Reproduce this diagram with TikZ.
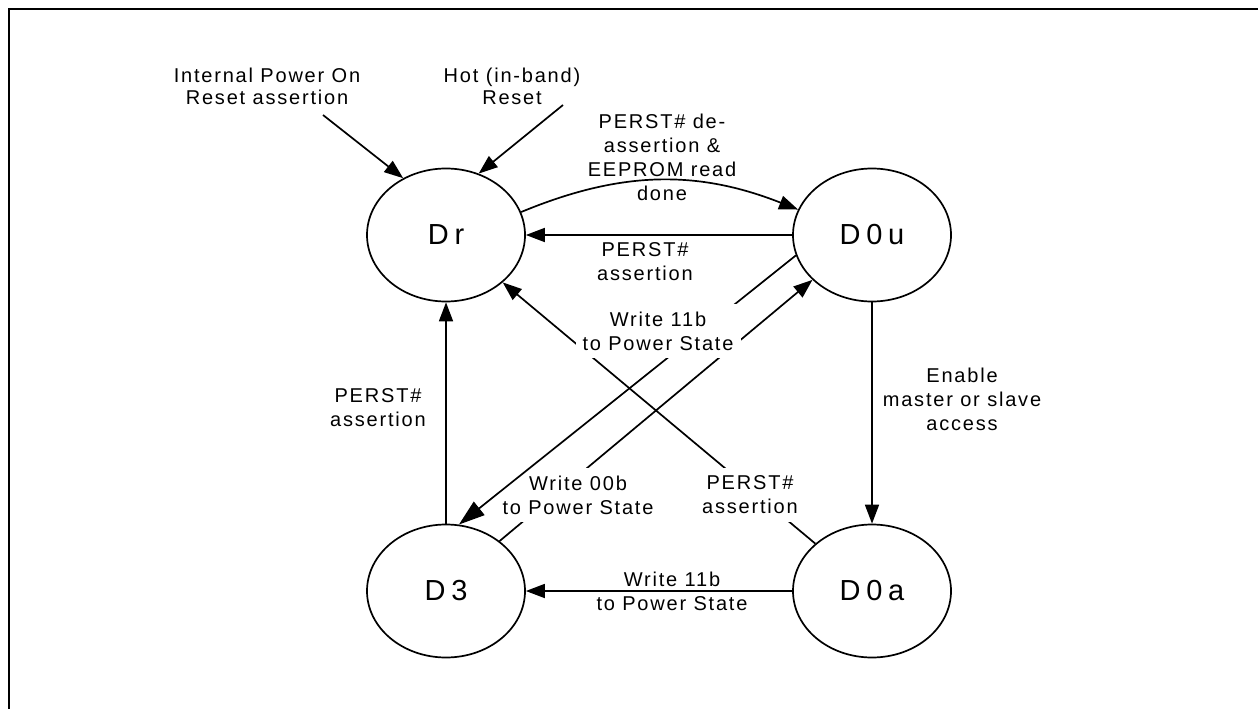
\documentclass[tikz,border=0pt]{standalone}
\usepackage{fontspec}
\setmainfont{Liberation Sans}[LetterSpace=9]
\newfontfamily\statefont{Liberation Sans}[LetterSpace=20]
\usetikzlibrary{shapes.geometric,arrows.meta,positioning}

\begin{document}
\begin{tikzpicture}[x=1pt,y=-1pt]
\tikzset{pmstate/.style={ellipse,draw,line width=1.7pt,minimum width=158pt,minimum height=133pt,inner sep=0pt,font=\statefont\fontsize{29}{34}\selectfont}}
\tikzset{lbl/.style={align=center,inner sep=2pt,font=\fontsize{20}{24}\selectfont}}
\tikzset{lblbox/.style={lbl,fill=white,inner xsep=7pt,inner ysep=8pt}}
\tikzset{conn/.style={line width=1.7pt,-{Triangle[length=19pt,width=14pt]}}}
\useasboundingbox (0,0) rectangle (1258,709);
\draw[line width=2.6pt] (9,730) -- (9,9) -- (1280,9);

\node[pmstate] (dr) at (446,235) {Dr};
\node[pmstate] (d0u) at (872,235) {D0u};
\node[pmstate] (d3) at (446,591) {D3};
\node[pmstate] (d0a) at (872,591) {D0a};

\coordinate (iporstart) at (323,115);
\coordinate (hotstart) at (563,105);
\draw[conn] (iporstart) -- (dr.127.7);
\draw[conn] (hotstart) -- (dr.62.7);

\draw[conn] (dr.17) to[bend left=22] (d0u.161);
\draw[conn] (d0u.west) -- (dr.east);
\draw[conn] (d3.north) -- (dr.south);
\draw[conn] (d0u.south) -- (d0a.north);
\draw[conn] (d0a.west) -- (d3.east);
\draw[conn] (d3.43) -- (d0u.217);
\draw[conn] (d0a) -- (dr);

\node[lblbox] (wr00) at (578,495) {Write 00b\\to Power State};
\node[lblbox] (perstlow) at (750,495) {PERST\#\\assertion};

\draw[conn,-{Triangle[length=26pt,width=17pt]}] (d0u.195) -- (d3.79);

\node[lblbox] (wr11mid) at (658,331) {Write 11b\\to Power State};

\node[lbl,font=\fontsize{20}{22}\selectfont] (ipor) at (267,86) {Internal Power On\\Reset assertion};
\node[lbl,font=\fontsize{20}{22}\selectfont] (hotrst) at (512,86) {Hot (in-band)\\Reset};
\node[lbl] (eeprom) at (662,157) {PERST\# de-\\assertion \&\\EEPROM read\\done};
\node[lbl] (persttop) at (645,262) {PERST\#\\assertion};
\node[lbl] (perstleft) at (378,408) {PERST\#\\assertion};
\node[lbl] (enable) at (962,399) {Enable\\master or slave\\access};
\node[lbl] (wr11low) at (672,591) {Write 11b\\to Power State};
\end{tikzpicture}
\end{document}
